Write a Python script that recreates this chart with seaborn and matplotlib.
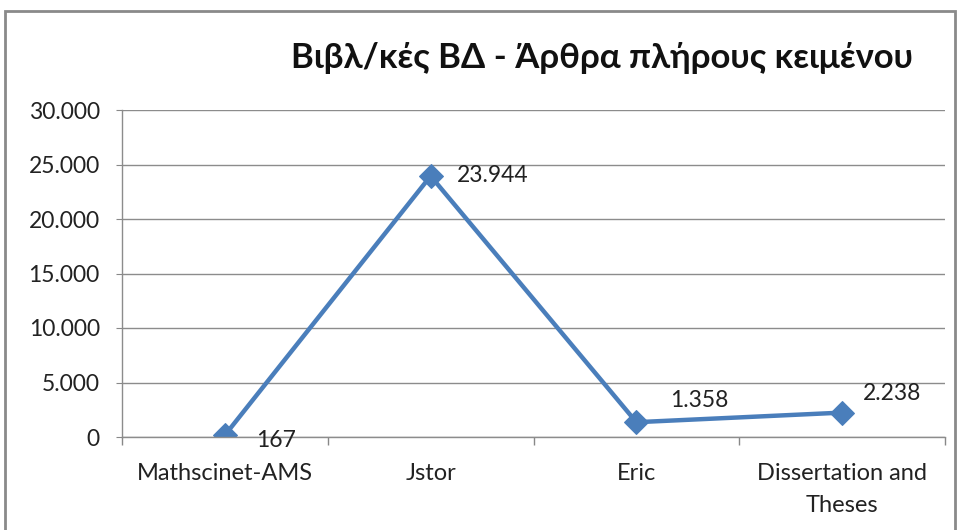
import matplotlib
matplotlib.use("Agg")
import matplotlib.pyplot as plt
import seaborn as sns
import pandas as pd
from matplotlib.patches import Rectangle
from matplotlib.ticker import FuncFormatter

categories = ["Mathscinet-AMS", "Jstor", "Eric", "Dissertation and\nTheses"]
values = [167, 23944, 1358, 2238]
value_labels = ["167", "23.944", "1.358", "2.238"]
title = "Βιβλ/κές ΒΔ - Άρθρα πλήρους κειμένου"

# label offsets in pixels (Excel-style placement)
label_offsets = [(51, -5), (62, 1), (63, 22), (50, 19)]

sns.set_style("white")
plt.rcParams["font.family"] = ["Lato", "DejaVu Sans"]

df = pd.DataFrame({"cat": categories, "val": values})
df["pos"] = range(len(df))

fig = plt.figure(figsize=(9.61, 5.30), dpi=100)
ax = fig.add_axes([122 / 961, 1 - 437 / 530, (945 - 122) / 961, (437 - 110) / 530])

sns.lineplot(data=df, x="pos", y="val", ax=ax, color="#4A7EBB", linewidth=3.2,
             marker="D", markersize=12.5, markeredgecolor="#4A7EBB")

for x, y, lab, off in zip(df["pos"], values, value_labels, label_offsets):
    ax.annotate(lab, (x, y), xytext=off, textcoords="offset pixels",
                ha="center", va="center", fontsize=16.5, color="#222222")

ax.set_xlim(-0.5, len(categories) - 0.5)
ax.set_ylim(0, 30000)
ax.set_yticks(range(0, 30001, 5000))
ax.yaxis.set_major_formatter(FuncFormatter(lambda v, p: f"{int(v):,}".replace(",", ".")))
ax.set_xticks(df["pos"])
ax.set_xticklabels(categories, fontsize=17, color="#222222", linespacing=1.65)
ax.set_xticks([i + 0.5 for i in range(-1, len(categories))], minor=True)
ax.tick_params(axis="x", which="major", bottom=False, length=0, pad=19)
ax.tick_params(axis="x", which="minor", bottom=True, length=6, color="#888888", width=1)
ax.tick_params(axis="y", left=True, labelsize=16.5, labelcolor="#222222", length=4,
               color="#888888", pad=12)
ax.grid(axis="y", color="#8c8c8c", linewidth=1)
ax.set_axisbelow(True)
ax.set_xlabel("")
ax.set_ylabel("")
for s in ["top", "right"]:
    ax.spines[s].set_visible(False)
for s in ["left", "bottom"]:
    ax.spines[s].set_color("#8c8c8c")
    ax.spines[s].set_linewidth(1)

fig.text(602 / 961, 1 - 58 / 530, title, ha="center", va="center",
         fontsize=25, fontweight="bold", color="#111111")

fig.patches.append(Rectangle((5 / 961, -0.05), 950 / 961, 1.05 - 11 / 530,
                             transform=fig.transFigure, fill=False,
                             edgecolor="#8a8a8a", linewidth=2))

fig.savefig("out.png", dpi=100)
